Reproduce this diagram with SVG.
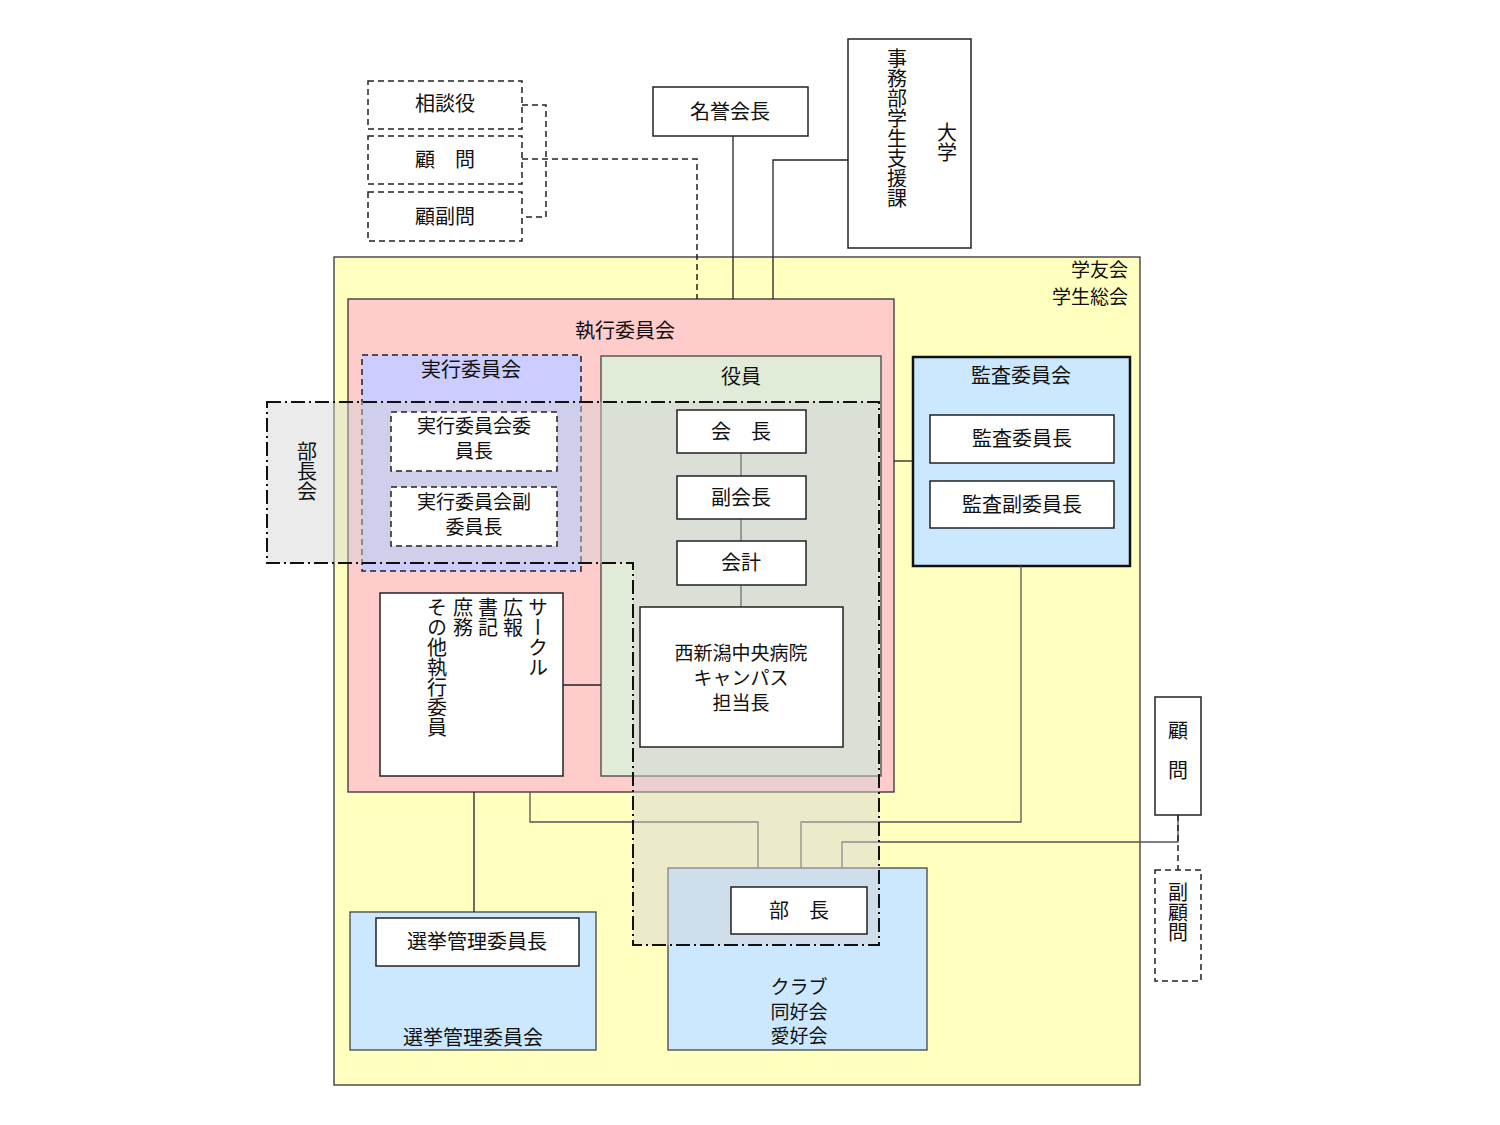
<svg xmlns="http://www.w3.org/2000/svg" width="1500" height="1125" viewBox="0 0 1500 1125">
<style>
text{font-family:"Noto Sans CJK JP","Noto Sans CJK SC",sans-serif;font-size:20px;fill:#111;text-anchor:middle}
.m{font-size:19px}
.v{writing-mode:vertical-rl;text-anchor:start;font-size:20px}
.r{text-anchor:end}
.box{fill:#fff;stroke:#222;stroke-width:1.5}
.dbox{fill:#fff;stroke:#222;stroke-width:1.5;stroke-dasharray:6 4}
.ln{fill:none;stroke:#222;stroke-width:1.3}
.gl{fill:none;stroke:#555;stroke-width:1.3}
.dl{fill:none;stroke:#222;stroke-width:1.5;stroke-dasharray:6 4}
</style>
<rect width="1500" height="1125" fill="#fff"/>
<g id="gakuyukai">
<rect x="334" y="257" width="806" height="828" fill="#FFFFC0" stroke="#333" stroke-width="1.3"/>
<text class="r m" x="1128" y="277">学友会</text>
<text class="r m" x="1128" y="304">学生総会</text>
</g>
<g id="shikko">
<rect x="348" y="299" width="546" height="493" fill="#FFCCCC" stroke="#333" stroke-width="1.3"/>
<text x="625" y="338">執行委員会</text>
</g>
<g id="jikko">
<rect x="362" y="355" width="219" height="216" fill="#CCCCFF" stroke="#222" stroke-width="1.5" stroke-dasharray="6 4"/>
<text x="471" y="377">実行委員会</text>
</g>
<g id="yakuin">
<rect x="601" y="356" width="280" height="420" fill="#E0EBD8" stroke="#444" stroke-width="1.3"/>
<text x="741" y="384">役員</text>
</g>
<g id="kansa">
<rect x="913" y="357" width="217" height="209" fill="#CCE8FF" stroke="#111" stroke-width="2.5"/>
<text x="1021" y="383">監査委員会</text>
</g>
<g id="senkyo">
<rect x="350" y="912" width="246" height="138" fill="#CCE8FF" stroke="#444" stroke-width="1.3"/>
<text x="473" y="1045">選挙管理委員会</text>
</g>
<g id="club">
<rect x="668" y="868" width="259" height="182" fill="#CCE8FF" stroke="#444" stroke-width="1.3"/>
<text class="m" x="799" y="994">クラブ</text>
<text class="m" x="799" y="1019">同好会</text>
<text class="m" x="799" y="1043">愛好会</text>
</g>
<g id="connectors">
<path class="dl" d="M522,105 H546 V217 H522 M522,159 H697 V299"/>
<path class="ln" d="M733,136 V299"/>
<path class="ln" d="M848,160 H773 V299"/>
<path class="ln" d="M894,461 H913"/>
<path class="ln" d="M741,453 V476 M741,519 V541 M741,585 V607"/>
<path class="ln" d="M563,685 H601"/>
<path class="ln" d="M474,792 V912"/>
<path class="gl" d="M530,792 V822 H758 V868"/>
<path class="gl" d="M1021,566 V822 H801 V868"/>
<path class="gl" d="M1178,815 V842 H842 V868"/>
<path class="dl" d="M1178,815 V870"/>
</g>
<g id="buchokai">
<path d="M267,402 H879 V945 H633 V563 H267 Z" fill="rgba(211,211,211,0.46)" stroke="#111" stroke-width="2" stroke-dasharray="14 4 2 4"/>
<text class="v" x="307" y="441">部長会</text>
</g>
<g id="sodanyaku">
<rect class="dbox" x="368" y="81" width="154" height="48"/>
<text x="445" y="111">相談役</text>
</g>
<g id="komon-top">
<rect class="dbox" x="368" y="136" width="154" height="48"/>
<text x="445" y="167">顧　問</text>
</g>
<g id="kofukumon">
<rect class="dbox" x="368" y="192" width="154" height="49"/>
<text x="445" y="224">顧副問</text>
</g>
<g id="meiyo">
<rect class="box" x="653" y="87" width="155" height="49"/>
<text x="730" y="119">名誉会長</text>
</g>
<g id="daigaku">
<rect class="box" x="848" y="39" width="123" height="209"/>
<text class="v" x="897" y="48">事務部学生支援課</text>
<text class="v" x="947" y="122">大学</text>
</g>
<g id="jikko-iincho">
<rect class="dbox" x="391" y="412" width="166" height="59"/>
<text class="m" x="474" y="433">実行委員会委</text>
<text class="m" x="474" y="458">員長</text>
</g>
<g id="jikko-fuku">
<rect class="dbox" x="391" y="487" width="166" height="59"/>
<text class="m" x="474" y="509">実行委員会副</text>
<text class="m" x="474" y="534">委員長</text>
</g>
<g id="kaicho">
<rect class="box" x="677" y="410" width="129" height="43"/>
<text x="741" y="439">会　長</text>
</g>
<g id="fukukaicho">
<rect class="box" x="677" y="476" width="129" height="43"/>
<text x="741" y="505">副会長</text>
</g>
<g id="kaikei">
<rect class="box" x="677" y="541" width="129" height="44"/>
<text x="741" y="570">会計</text>
</g>
<g id="nishiniigata">
<rect class="box" x="640" y="607" width="203" height="140"/>
<text class="m" x="741" y="660">西新潟中央病院</text>
<text class="m" x="741" y="685">キャンパス</text>
<text class="m" x="741" y="710">担当長</text>
</g>
<g id="sonota">
<rect class="box" x="380" y="593" width="183" height="183"/>
<text class="v" x="538" y="597">サークル</text>
<text class="v" x="513" y="597">広報</text>
<text class="v" x="488" y="597">書記</text>
<text class="v" x="463" y="597">庶務</text>
<text class="v" x="437" y="597">その他執行委員</text>
</g>
<g id="kansa-iincho">
<rect class="box" x="930" y="415" width="184" height="48"/>
<text x="1022" y="446">監査委員長</text>
</g>
<g id="kansa-fuku">
<rect class="box" x="930" y="481" width="184" height="47"/>
<text x="1022" y="512">監査副委員長</text>
</g>
<g id="senkyo-iincho">
<rect class="box" x="376" y="918" width="203" height="48"/>
<text x="477" y="949">選挙管理委員長</text>
</g>
<g id="bucho">
<rect class="box" x="731" y="887" width="136" height="47"/>
<text x="799" y="918">部　長</text>
</g>
<g id="komon-right">
<rect class="box" x="1155" y="697" width="46" height="118"/>
<text class="v" x="1178" y="720">顧　問</text>
</g>
<g id="fukukomon">
<rect class="dbox" x="1155" y="870" width="46" height="111"/>
<text class="v" x="1178" y="882">副顧問</text>
</g>
</svg>
